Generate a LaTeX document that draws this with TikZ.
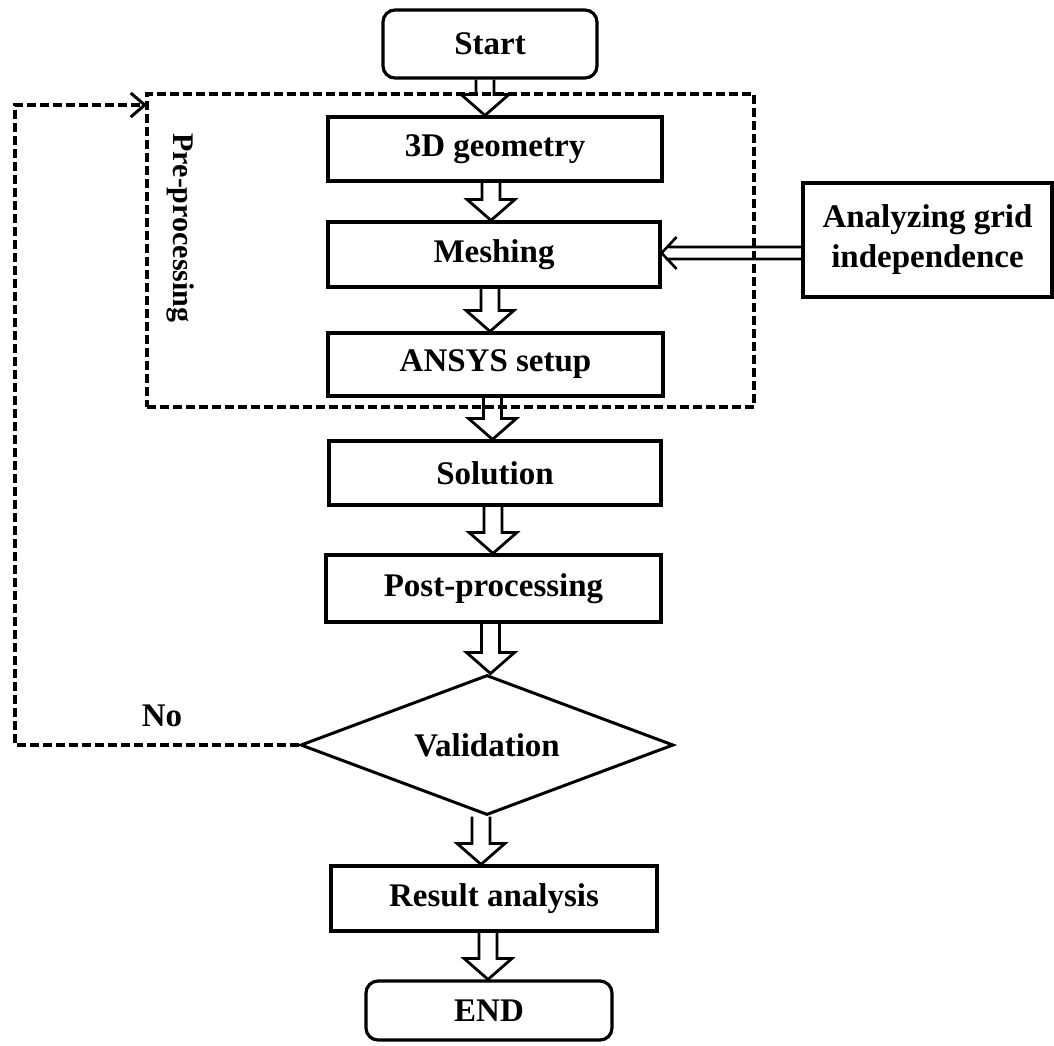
\documentclass[tikz,border=0pt]{standalone}
\usepackage{fontspec}
\setmainfont{Liberation Serif}
\usetikzlibrary{shapes.geometric,arrows.meta,calc}
\newcommand\blockarrow[2]{%
  \draw[blockarr] let \p1=(#1), \p2=(#2) in
    (\x1-9pt,\y1) -- (\x1-9pt,\y2+21pt) -- (\x1-24pt,\y2+21pt) -- (\x1,\y2)
    -- (\x1+24pt,\y2+21pt) -- (\x1+9pt,\y2+21pt) -- (\x1+9pt,\y1);}
\begin{document}
\begin{tikzpicture}[x=1pt,y=-1pt,
  every node/.style={font=\fontsize{33}{40}\selectfont\bfseries},
  procbox/.style={draw,line width=3.2pt,inner sep=0pt,align=center},
  termbox/.style={procbox,rounded corners=12pt},
  blockarr/.style={line width=2.8pt,line join=miter},
  dashline/.style={line width=3.2pt,dash pattern=on 9pt off 4pt},
  decision/.style={draw,diamond,line width=3pt,aspect=2.66,inner sep=0pt},
]
\useasboundingbox (0,0) rectangle (1054,1045);

% dashed pre-processing frame
\node[draw,dashline,minimum width=607pt,minimum height=313pt,inner sep=0pt,outer sep=0pt] (pre) at (450.5,250.5) {};
\node[rotate=-90,font=\fontsize{30}{36}\selectfont\bfseries] (prelabel) at (181,228) {Pre-processing};

% nodes
\node[termbox,minimum width=214pt,minimum height=68pt] (start) at (490,44) {Start};
\node[procbox,minimum width=334pt,minimum height=64pt] (geo) at (495,149) {3D geometry};
\node[procbox,minimum width=332pt,minimum height=65pt] (mesh) at (494,254.5) {Meshing};
\node[procbox,minimum width=335pt,minimum height=63pt] (ansys) at (495.5,364.5) {ANSYS setup};
\node[procbox,minimum width=332pt,minimum height=64pt] (sol) at (495,473) {Solution};
\node[procbox,minimum width=335pt,minimum height=67pt] (post) at (493.5,588.5) {Post-processing};
\node[decision,minimum width=373pt,minimum height=140pt] (val) at (487,745) {Validation};
\node[procbox,minimum width=326pt,minimum height=65pt] (res) at (494,898.5) {Result analysis};
\node[termbox,minimum width=246pt,minimum height=59pt] (end) at (489,1010.5) {END};
\node[procbox,minimum width=249pt,minimum height=114pt] (grid) at (927.5,240) {Analyzing grid\\independence};
\node (no) at (162,716) {No};

% block arrows
\blockarrow{[xshift=-5pt]start.south}{geo.north}
\blockarrow{[xshift=-4pt]geo.south}{mesh.north}
\blockarrow{[xshift=-4pt]mesh.south}{ansys.north}
\blockarrow{[xshift=-3pt]ansys.south}{sol.north}
\blockarrow{[xshift=-2pt]sol.south}{post.north}
\blockarrow{[xshift=-3pt]post.south}{val.north}
\blockarrow{[xshift=-6pt]val.south}{res.north}
\blockarrow{[xshift=-6pt]res.south}{end.north}

% double arrow from grid analysis to meshing
\draw[line width=2.6pt,line join=miter] let \p1=(grid.west), \p2=(mesh.east) in
  (\x1,\y2+7.5pt) -- (\x2+7pt,\y2+7.5pt)
  (\x1,\y2-4.5pt) -- (\x2+4pt,\y2-4.5pt)
  (\x2+15pt,\y2+17.5pt) -- (\x2,\y2+1.5pt) -- (\x2+15pt,\y2-14.5pt);

% feedback dashed arrow
\coordinate (fb) at (15,105);
\coordinate (fbend) at ([yshift=-11pt]pre.north west);
\draw[dashline,-{Straight Barb[length=14pt,width=24pt,line width=3pt]}]
  (val.west) -| (fb |- fbend) -- (fbend);
\end{tikzpicture}
\end{document}
